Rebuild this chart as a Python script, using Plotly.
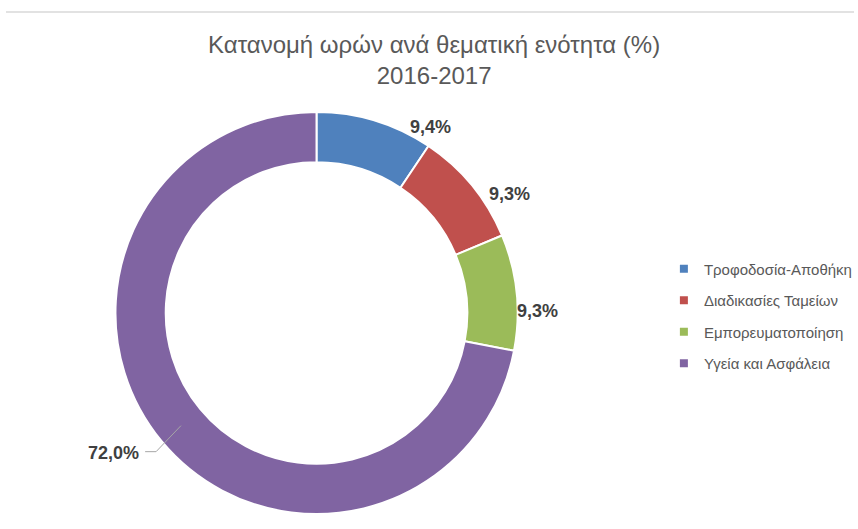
import math
import plotly.graph_objects as go

categories = ["Τροφοδοσία-Αποθήκη", "Διαδικασίες Ταμείων", "Εμπορευματοποίηση", "Υγεία και Ασφάλεια"]
values = [9.4, 9.3, 9.3, 72.0]
value_labels = ["9,4%", "9,3%", "9,3%", "72,0%"]
colors = ["#4F81BD", "#C0504D", "#9BBB59", "#8064A2"]

W, H = 858, 529
cx, cy, R = 318, 313, 202
hole = 0.75

# label placement style (pixel nudges from the slice's outer edge at its mid-angle)
label_nudge = [(55, 7), (38, 9), (21, 19), None]

fig = go.Figure()
fig.add_trace(go.Pie(
    labels=categories,
    values=values,
    textinfo="none",
    marker=dict(colors=colors, line=dict(color="white", width=2)),
    hole=hole,
    sort=False,
    direction="clockwise",
    rotation=0,
    showlegend=False,
    domain=dict(x=[(cx - R) / W, (cx + R) / W], y=[(H - cy - R) / H, (H - cy + R) / H]),
    hoverinfo="label+percent",
))

# legend entries (one group each so the spacing matches)
for name, col in zip(categories, colors):
    fig.add_trace(go.Scatter(
        x=[None], y=[None], mode="markers", name=name, legendgroup=name,
        marker=dict(symbol="square", size=8, color=col),
        hoverinfo="skip",
    ))


def to_paper(px, py):
    return px / W, 1 - py / H


total = sum(values)
cum = 0.0
lab_font = dict(family="Liberation Sans", size=18, color="#404040")
for v, t, nudge in zip(values, value_labels, label_nudge):
    mid = (cum + v / 2) / total * 360
    cum += v
    s, c = math.sin(math.radians(mid)), math.cos(math.radians(mid))
    if nudge is not None:
        ox, oy = cx + R * s, cy - R * c
        x, y = to_paper(ox, oy)
        fig.add_annotation(x=x, y=y, xref="paper", yref="paper", showarrow=False,
                           text="<b>" + t + "</b>", xanchor="center", yanchor="middle",
                           xshift=nudge[0], yshift=-nudge[1], font=lab_font)
    else:
        rm = R * (1 + hole) / 2
        p = (cx + rm * s, cy - rm * c)
        elbow = (p[0] - 25, p[1] + 26)
        end = (elbow[0] - 11, elbow[1])
        pts = [to_paper(*q) for q in (p, elbow, end)]
        path = "M {} {} L {} {} L {} {}".format(*[k for q in pts for k in q])
        fig.add_shape(type="path", xref="paper", yref="paper", path=path,
                      line=dict(color="#A6A6A6", width=1))
        x, y = to_paper(end[0] - 4, end[1] + 1)
        fig.add_annotation(x=x, y=y, xref="paper", yref="paper", showarrow=False,
                           text="<b>" + t + "</b>", xanchor="right", yanchor="middle",
                           font=lab_font)

fig.add_shape(type="line", xref="paper", yref="paper",
              x0=6 / W, x1=1, y0=1 - 12 / H, y1=1 - 12 / H,
              line=dict(color="#D9D9D9", width=1.5))

fig.update_layout(
    width=W, height=H,
    margin=dict(l=0, r=0, t=0, b=0),
    paper_bgcolor="white", plot_bgcolor="white",
    xaxis=dict(visible=False), yaxis=dict(visible=False),
    title=dict(text="Κατανομή ωρών ανά θεματική ενότητα (%)<br>2016-2017",
               x=0.506, xanchor="center", y=1 - 53 / H, yanchor="top",
               font=dict(family="Liberation Sans", size=24, color="#595959")),
    showlegend=True,
    legend=dict(x=667 / W, xanchor="left", y=1 - 316 / H, yanchor="middle",
                font=dict(family="Liberation Sans", size=15, color="#595959"),
                itemwidth=30, tracegroupgap=9, itemclick=False),
)

fig.write_html("out.html", config={"displayModeBar": False},
               post_script="document.body.style.margin='0';")
